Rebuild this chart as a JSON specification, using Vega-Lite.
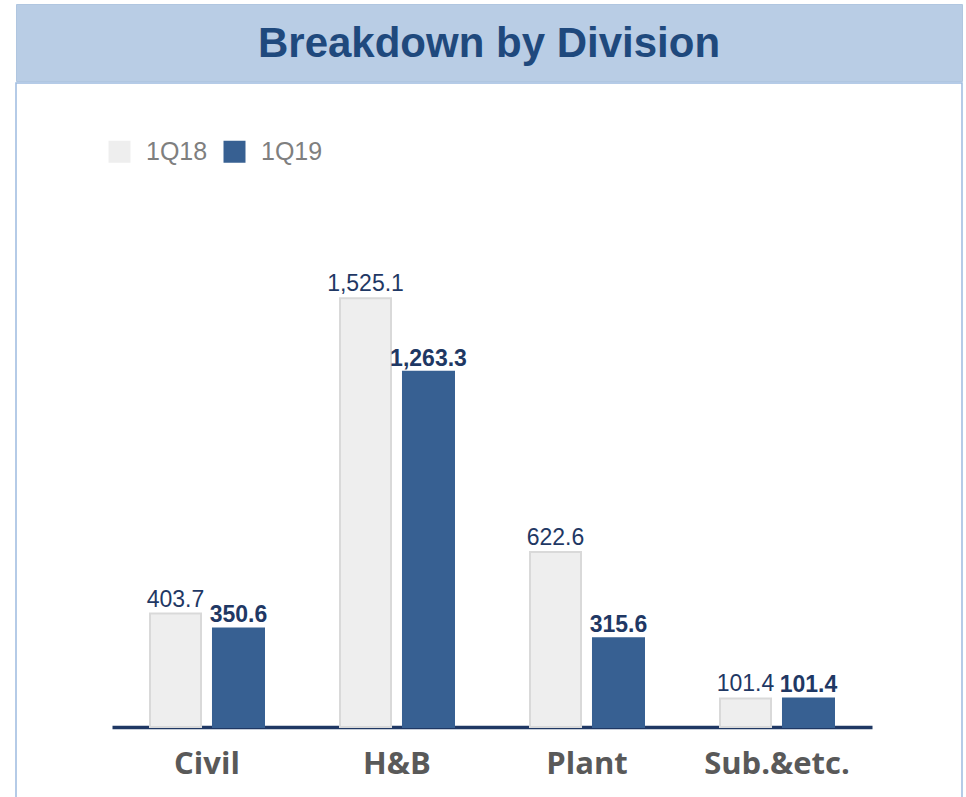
{
  "$schema": "https://vega.github.io/schema/vega-lite/v6.json",
  "background": "white",
  "padding": {"left": 15, "top": 3, "right": 0, "bottom": 0},
  "spacing": 0,
  "config": {"concat": {"spacing": 0}},
  "data": {"values": [
    {"division": "Civil", "period": "1Q18", "value": 403.7},
    {"division": "Civil", "period": "1Q19", "value": 350.6},
    {"division": "H&B", "period": "1Q18", "value": 1525.1},
    {"division": "H&B", "period": "1Q19", "value": 1263.3},
    {"division": "Plant", "period": "1Q18", "value": 622.6},
    {"division": "Plant", "period": "1Q19", "value": 315.6},
    {"division": "Sub.&etc.", "period": "1Q18", "value": 101.4},
    {"division": "Sub.&etc.", "period": "1Q19", "value": 101.4}
  ]},
  "vconcat": [
    {
      "width": 946,
      "height": 77,
      "view": {"fill": "#b9cde5", "stroke": "#b0c6e0", "strokeWidth": 1},
      "data": {"values": [{"t": "Breakdown by Division"}]},
      "mark": {"type": "text", "font": "Liberation Sans", "fontWeight": "bold", "fontSize": 42, "color": "#1f497d", "align": "center", "baseline": "middle", "dy": 1},
      "encoding": {"text": {"field": "t"}}
    },
    {
      "width": 946,
      "height": 720,
      "view": {"fill": "white", "stroke": "#9dbbe0", "strokeWidth": 1.5},
      "encoding": {
        "x": {
          "field": "division", "type": "nominal", "sort": ["Civil", "H&B", "Plant", "Sub.&etc."],
          "scale": {"range": [96, 856], "paddingInner": 0.4, "paddingOuter": 0.2},
          "axis": {
            "title": null, "labelAngle": 0, "ticks": false, "offset": -76,
            "domainColor": "#1f3864", "domainWidth": 3.5,
            "labelFont": "Open Sans", "labelFontWeight": "bold", "labelFontSize": 31,
            "labelColor": "#595959", "labelPadding": 22
          }
        },
        "xOffset": {"field": "period", "type": "nominal", "scale": {"paddingInner": 0.19, "paddingOuter": 0}},
        "y": {
          "field": "value", "type": "quantitative",
          "scale": {"domain": [0, 1800], "range": [644, 138], "nice": false},
          "axis": null
        }
      },
      "layer": [
        {
          "mark": {"type": "bar", "strokeWidth": 2},
          "encoding": {
            "color": {
              "field": "period", "type": "nominal",
              "scale": {"domain": ["1Q18", "1Q19"], "range": ["#eeeeee", "#376092"]},
              "legend": {
                "title": null, "orient": "none", "direction": "horizontal",
                "legendX": 91, "legendY": 135,
                "symbolType": "square", "symbolSize": 484, "symbolStrokeWidth": 0,
                "labelFont": "Liberation Sans", "labelFontSize": 25, "labelColor": "#7f7f7f",
                "labelOffset": 14, "columnPadding": 14, "symbolOffset": 0
              }
            },
            "stroke": {
              "field": "period", "type": "nominal",
              "scale": {"domain": ["1Q18", "1Q19"], "range": ["#d9d9d9", "#376092"]},
              "legend": null
            }
          }
        },
        {
          "transform": [{"filter": "datum.period === '1Q18'"}],
          "mark": {"type": "text", "font": "Liberation Sans", "fontSize": 23, "color": "#1f3864", "baseline": "alphabetic", "dy": -7},
          "encoding": {"text": {"field": "value", "type": "quantitative", "format": ",.1f"}}
        },
        {
          "transform": [{"filter": "datum.period === '1Q19'"}],
          "mark": {"type": "text", "font": "Liberation Sans", "fontWeight": "bold", "fontSize": 23, "color": "#1f3864", "baseline": "alphabetic", "dy": -6},
          "encoding": {"text": {"field": "value", "type": "quantitative", "format": ",.1f"}}
        }
      ]
    }
  ]
}
